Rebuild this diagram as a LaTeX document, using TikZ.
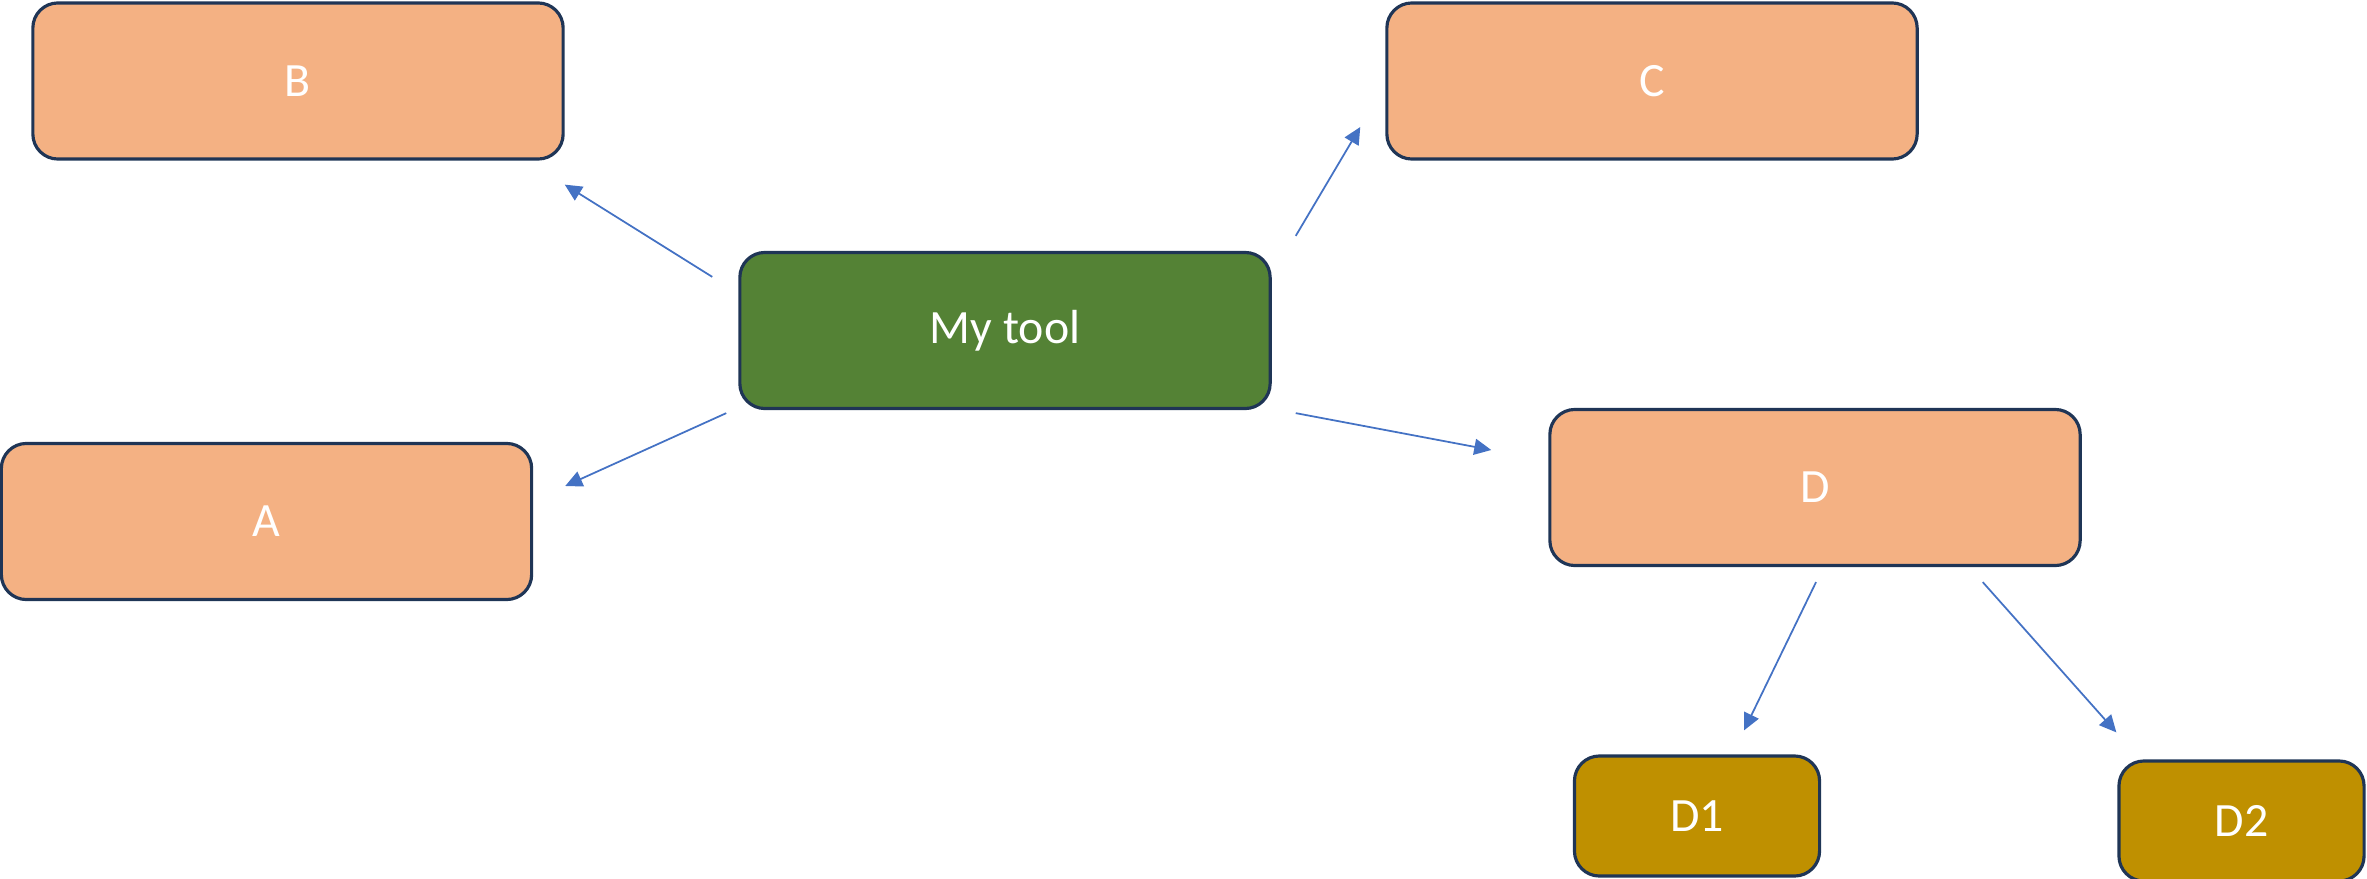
\documentclass[tikz,border=0pt]{standalone}
\usepackage{fontspec}
\setmainfont{Carlito}
\usetikzlibrary{arrows.meta}

\definecolor{peach}{HTML}{F4B183}
\definecolor{leaf}{HTML}{548235}
\definecolor{gold}{HTML}{BF9000}
\definecolor{navy}{HTML}{1F3556}
\definecolor{link}{HTML}{4472C4}

\tikzset{
	box/.style={draw=navy, line width=0.9pt, rounded corners=0.25cm, fill=peach, text=white,
		minimum width=5.3cm, minimum height=1.56cm, inner sep=0pt, font=\fontsize{13.6}{15}\selectfont},
	subbox/.style={box, fill=gold, minimum width=2.45cm, minimum height=1.2cm},
	arr/.style={draw=link, line width=0.5pt, -{Triangle[length=0.17cm, width=0.16cm]}}
}

\begin{document}
\begin{tikzpicture}[x=0.01cm, y=-0.01cm]
	\useasboundingbox (0,0) rectangle (2367,879);

	% Nodes {tool, a, b, c, d, d1, d2}
	\node [box, fill=leaf]	(tool)	at (1005,330.5)	{My tool};
	\node [box]				(b)		at (298,81)		{B};
	\node [box]				(c)		at (1652,81)	{C};
	\node [box]				(a)		at (266.5,521.5)	{A};
	\node [box]				(d)		at (1815,487.5)	{D};
	\node [subbox]			(d1)	at (1697,816)	{D1};
	\node [subbox]			(d2)	at (2241.5,821)	{D2};

	% Paths
	\path [arr]	([shift={(-26,26)}]tool.north west)	-- ([shift={(0,24)}]b.south east);
	\path [arr]	([shift={(24,-15)}]tool.north east)	-- ([shift={(-25,46)}]c.west);
	\path [arr]	([shift={(-12,3)}]tool.south west)	-- ([shift={(32,-35.5)}]a.east);
	\path [arr]	([shift={(24,3)}]tool.south east)	-- ([shift={(-57,-37.5)}]d.west);
	\path [arr]	([shift={(1,15)}]d.south)			-- ([shift={(47,-24)}]d1.north);
	\path [arr]	([shift={(-99,15)}]d.south east)	-- ([shift={(-1,-27)}]d2.north west);

\end{tikzpicture}
\end{document}
